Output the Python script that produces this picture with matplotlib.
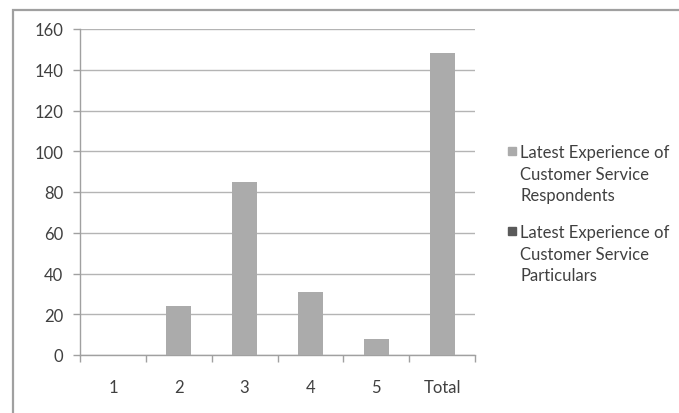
import matplotlib
matplotlib.use("Agg")
import matplotlib.pyplot as plt
from matplotlib.patches import Rectangle

categories = ["1", "2", "3", "4", "5", "Total"]
respondents = [0, 24, 85, 31, 8, 148]
particulars = [0, 0, 0, 0, 0, 0]
series_names = [
    "Latest Experience of\nCustomer Service\nRespondents",
    "Latest Experience of\nCustomer Service\nParticulars",
]
series_colors = ["#ababab", "#5a5a5a"]
yticks = [0, 20, 40, 60, 80, 100, 120, 140, 160]

plt.rcParams["font.family"] = ["Lato", "DejaVu Sans"]
text_col = "#404040"
grid_col = "#b4b4b4"

W, H = 679, 414
fig = plt.figure(figsize=(W / 100, H / 100), dpi=100)

# chart area frame (left and top edges visible)
fig.patches.append(Rectangle((12.5 / W, -0.1), 1.2, (H - 11) / H + 0.1,
                             transform=fig.transFigure, fill=False,
                             edgecolor="#a0a0a0", linewidth=1.6))

ax = fig.add_axes([80 / W, 58 / H, 395 / W, 326 / H])
x = list(range(1, len(categories) + 1))
ax.bar(x, respondents, width=0.38, color=series_colors[0], zorder=3)
ax.bar(x, particulars, width=0.38, color=series_colors[1], zorder=3)

ax.set_xlim(0.5, len(categories) + 0.5)
ax.set_ylim(0, 160)
ax.set_yticks(yticks)
ax.set_xticks(x)
ax.set_xticklabels(categories)
ax.set_xticks([i + 0.5 for i in range(len(categories) + 1)], minor=True)

ax.grid(axis="y", color=grid_col, linewidth=1, zorder=0)
for s in ["top", "right"]:
    ax.spines[s].set_visible(False)
for s in ["left", "bottom"]:
    ax.spines[s].set_color("#a0a0a0")
    ax.spines[s].set_linewidth(1)

ax.tick_params(axis="y", length=5, width=1, color="#a0a0a0", pad=7,
               labelsize=12, labelcolor=text_col)
ax.tick_params(axis="x", which="major", length=0, pad=17,
               labelsize=12, labelcolor=text_col)
ax.tick_params(axis="x", which="minor", length=5, width=1, color="#a0a0a0")

# legend: square key beside the first line of each wrapped label
for i, (name, col) in enumerate(zip(series_names, series_colors)):
    top = 145 + i * 80
    fig.patches.append(Rectangle((508 / W, 1 - (top + 11) / H), 8 / W, 8 / H,
                                 transform=fig.transFigure, color=col))
    fig.text(520 / W, 1 - top / H, name, ha="left", va="top",
             fontsize=12, color=text_col, linespacing=1.43)

fig.savefig("out.png", dpi=100)
